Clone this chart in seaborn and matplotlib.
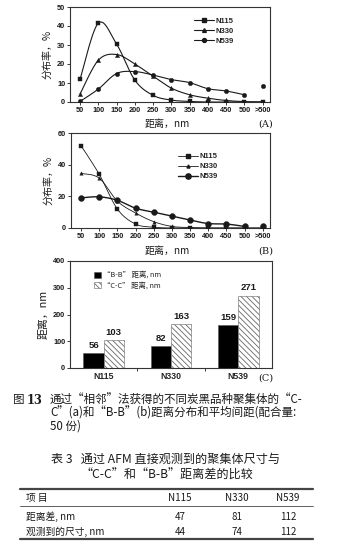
import numpy as np
import pandas as pd
import matplotlib
matplotlib.use("Agg")
import matplotlib.pyplot as plt
from matplotlib.patches import Patch
from matplotlib.lines import Line2D
import seaborn as sns

# ---- data ----
x_labels = ["50", "100", "150", "200", "250", "300", "350", "400", "450", "500", ">500"]

# (A) C-C distance distribution, %
a_n115 = [12, 41.5, 30.5, 11.5, 3.5, 1.0, 0.3, 0.0, 0.0, 0.0, 0.0]
a_n330 = [4.2, 22, 25, 20, 13.5, 7.3, 3.8, 2.0, 0.8, 0.2, 0.0]
a_n539 = [0.3, 6.8, 15, 16, 14.2, 11.8, 10.2, 7.0, 5.8, 3.8, 8.5]

# (B) B-B distance distribution, %
b_n115 = [52, 34, 12, 2.5, 0.5, 0.0, 0.0, 0.0, 0.0, 0.0, 0.0]
b_n330 = [34.5, 31.5, 17, 9.5, 4.0, 1.0, 0.3, 0.0, 0.0, 0.0, 0.0]
b_n539 = [19, 19.7, 17.5, 12.5, 10, 7.5, 5.0, 2.8, 2.5, 1.0, 1.5]

# (C) mean distances, nm
grades = ["N115", "N330", "N539"]
bb_dist = [56, 82, 159]
cc_dist = [103, 163, 271]

# table 3
table_cols = ["项 目", "N115", "N330", "N539"]
table_rows = [["距离差, nm", "47", "81", "112"],
              ["观测到的尺寸, nm", "44", "74", "112"]]

# ---- style ----
sns.set_theme(style="ticks")
CJK = ["Noto Sans CJK SC", "DejaVu Sans"]
plt.rcParams["font.family"] = CJK
plt.rcParams["hatch.linewidth"] = 0.6
TICKFONT = dict(family="Liberation Sans", weight="bold")
INK = "#1a1a1a"

W, H = 346, 548
fig = plt.figure(figsize=(W / 100, H / 100), dpi=100)
fig.patch.set_facecolor("white")


def px_axes(l, t, r, b):
    return fig.add_axes([l / W, 1 - b / H, (r - l) / W, (b - t) / H])


def ftext(x, y, s, **kw):
    fig.text(x / W, 1 - y / H, s, **kw)


def catmull(x, y, n=16):
    p = np.column_stack([x, y]).astype(float)
    p = np.vstack([p[0], p, p[-1]])
    out = []
    for i in range(1, len(p) - 2):
        p0, p1, p2, p3 = p[i - 1], p[i], p[i + 1], p[i + 2]
        t = np.linspace(0, 1, n, endpoint=False)[:, None]
        seg = 0.5 * (2 * p1 + (-p0 + p2) * t + (2 * p0 - 5 * p1 + 4 * p2 - p3) * t ** 2
                     + (-p0 + 3 * p1 - 3 * p2 + p3) * t ** 3)
        out.append(seg)
    out.append(p[-2][None, :])
    c = np.vstack(out)
    return c[:, 0], c[:, 1]


def style_axes(ax):
    for s in ax.spines.values():
        s.set_linewidth(0.8)
        s.set_color("#333333")
    ax.tick_params(axis="both", length=2, width=0.6, pad=1.5, colors=INK, labelsize=5.3)
    for lab in ax.get_xticklabels() + ax.get_yticklabels():
        lab.set_fontfamily(TICKFONT["family"])
        lab.set_fontweight(TICKFONT["weight"])


def dist_panel(ax, series, connect_last, ymax, yticks, sizes, widths, legend_pos):
    pos = np.arange(len(x_labels))
    markers = {"N115": "s", "N330": "^", "N539": "o"}
    for name, vals in series.items():
        vals = np.asarray(vals, float)
        n_line = len(vals) if connect_last[name] else len(vals) - 1
        sx, sy = catmull(pos[:n_line], vals[:n_line])
        sns.lineplot(x=sx, y=sy, ax=ax, color=INK, lw=widths[name], sort=False,
                     estimator=None, legend=False)
        sns.scatterplot(x=pos, y=vals, ax=ax, marker=markers[name], s=sizes[name],
                        color=INK, edgecolor=INK, linewidth=0.3, legend=False, zorder=3)
    ax.set_xlim(-0.55, 10.4)
    ax.set_ylim(0, ymax)
    ax.set_xticks(pos)
    ax.set_xticklabels(x_labels)
    ax.set_yticks(yticks)
    ax.set_ylabel("分布率，%", fontsize=7.2, labelpad=3, color=INK)
    ax.set_xlabel("")
    style_axes(ax)
    handles = [Line2D([], [], color=INK, lw=widths[k], marker=markers[k],
                      markersize=np.sqrt(sizes[k]) * 0.9, label=k) for k in series]
    leg = ax.legend(handles=handles, loc="upper left", bbox_to_anchor=legend_pos,
                    frameon=False, fontsize=5.5, handlelength=2.6, handletextpad=0.2,
                    labelspacing=0.35, borderpad=0)
    for t in leg.get_texts():
        t.set_fontfamily("Liberation Sans")
        t.set_fontweight("bold")


# ---- (A) ----
axA = px_axes(70, 7, 270, 102)
dist_panel(axA, {"N115": a_n115, "N330": a_n330, "N539": a_n539},
           {"N115": True, "N330": True, "N539": False}, 50, [0, 10, 20, 30, 40, 50],
           {"N115": 9, "N330": 9, "N539": 10}, {"N115": 0.8, "N330": 0.8, "N539": 0.8},
           (0.6, 0.93))
ftext(167, 124, "距离，nm", fontsize=7.2, ha="center", va="center", color=INK)
ftext(266, 124, "(A)", fontsize=7, ha="center", va="center", color=INK, family="DejaVu Serif")

# ---- (B) ----
axB = px_axes(71, 133, 270, 228)
dist_panel(axB, {"N115": b_n115, "N330": b_n330, "N539": b_n539},
           {"N115": True, "N330": True, "N539": False}, 60, [0, 20, 40, 60],
           {"N115": 7, "N330": 6, "N539": 18}, {"N115": 0.6, "N330": 0.6, "N539": 1.0},
           (0.52, 0.83))
ftext(167, 251, "距离，nm", fontsize=7.2, ha="center", va="center", color=INK)
ftext(266, 251, "(B)", fontsize=7, ha="center", va="center", color=INK, family="DejaVu Serif")

# ---- (C) ----
axC = px_axes(70, 261, 272, 368)
dfC = pd.DataFrame({
    "grade": grades * 2,
    "dist": bb_dist + cc_dist,
    "kind": ["“B-B” 距离, nm"] * 3 + ["“C-C” 距离, nm"] * 3,
})
sns.barplot(data=dfC, x="grade", y="dist", hue="kind", ax=axC,
            palette=["black", "white"], width=0.6, gap=0, edgecolor="#555555",
            linewidth=0.4, legend=False)
for p in axC.containers[1].patches:
    p.set_hatch("\\\\\\\\\\\\")
    p.set_edgecolor("#666666")
for cont in axC.containers:
    labs = axC.bar_label(cont, fmt="%d", padding=2.5, fontsize=6.8, color=INK)
    for t in labs:
        t.set_fontfamily("Liberation Sans")
        t.set_fontweight("bold")
axC.set_xlim(-0.5, 2.5)
axC.set_ylim(0, 400)
axC.set_yticks([0, 100, 200, 300, 400])
axC.set_xticks([0.5, 1.5])
axC.set_xticklabels([])
axC.set_xticks([0, 1, 2], minor=True)
axC.set_xticklabels(grades, minor=True)
axC.set_xlabel("")
axC.set_ylabel("距离，nm", fontsize=7.8, labelpad=3, color=INK)
style_axes(axC)
axC.tick_params(axis="x", which="minor", length=0, pad=3, labelsize=6.3)
for lab in axC.get_xticklabels(minor=True):
    lab.set_fontfamily("Liberation Sans")
    lab.set_fontweight("bold")
legC = axC.legend(handles=[Patch(facecolor="black", edgecolor="#555555", lw=0.4),
                           Patch(facecolor="white", edgecolor="#666666", lw=0.4,
                                 hatch="\\\\\\\\\\\\")],
                  labels=["“B-B” 距离, nm", "“C-C” 距离, nm"],
                  loc="upper left", bbox_to_anchor=(0.1, 0.94), frameon=False,
                  fontsize=5.3, handlelength=0.9, handleheight=0.9, handletextpad=0.4,
                  labelspacing=0.3, borderpad=0)
ftext(266, 378, "(C)", fontsize=7, ha="center", va="center", color=INK, family="DejaVu Serif")

# ---- figure caption ----
cap = dict(fontsize=8.3, va="center", ha="left", color=INK)
ftext(13, 400, "图", **cap)
ftext(27, 400, "13", fontsize=8.3, va="center", ha="left", color=INK, weight="bold",
      family="DejaVu Serif")
ftext(50, 400, "通过“相邻”法获得的不同炭黑品种聚集体的“C-", **cap)
ftext(50, 413, "C”(a)和“B-B”(b)距离分布和平均间距(配合量:", **cap)
ftext(50, 426, "50 份)", **cap)

# ---- table 3 ----
ftext(51, 459, "表 3   通过 AFM 直接观测到的聚集体尺寸与", fontsize=8.7, va="center", ha="left", color=INK)
ftext(167, 475, "“C-C”和“B-B”距离差的比较", fontsize=8.7, va="center", ha="center", color=INK)

for y, lw in [(489, 1.6), (506, 0.6), (539, 1.6)]:
    fig.add_artist(Line2D([20 / W, 313 / W], [1 - y / H, 1 - y / H], color="#444444", lw=lw))

col_x = [26, 180, 237, 288]
tb = dict(fontsize=7, va="center", color=INK)
for j, c in enumerate(table_cols):
    ftext(col_x[j], 498, c, ha="left" if j == 0 else "center", **tb)
for i, row in enumerate(table_rows):
    y = 517 + 15 * i
    for j, c in enumerate(row):
        ftext(col_x[j], y, c, ha="left" if j == 0 else "center", **tb)

fig.savefig("out.png", dpi=100)
